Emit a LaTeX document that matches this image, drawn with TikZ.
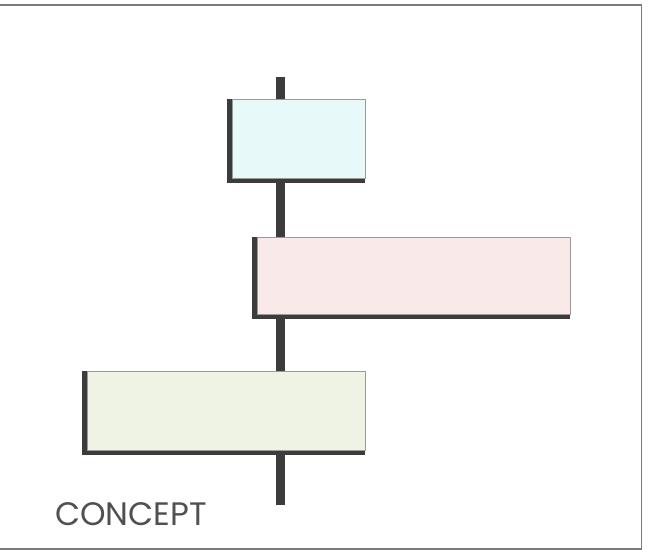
\documentclass[tikz,border=0pt]{standalone}
\usepackage{fontspec}
\setmainfont{Poppins}
\usepackage{xcolor}
\usetikzlibrary{backgrounds}
\definecolor{barGray}{HTML}{3C3C3C}
\definecolor{edgeGray}{HTML}{9A9A9A}
\definecolor{frameGray}{HTML}{7A7A7A}
\definecolor{cyanFill}{HTML}{E8F9FA}
\definecolor{pinkFill}{HTML}{F9E9E9}
\definecolor{greenFill}{HTML}{EFF3E3}
\tikzset{
    block/.style={draw=edgeGray, line width=0.5pt, inner sep=0pt},
    spine/.style={barGray, line width=0.18cm}
}

\begin{document}
\begin{tikzpicture}[x=0.02cm, y=-0.02cm]
            \useasboundingbox (0,0) rectangle (663,553);
            \draw[frameGray, line width=0.7pt] (-5,5) -- (641.5,5) -- (641.5,549) -- (-5,549);
            
            \node[block, fill=cyanFill, minimum width=2.66cm, minimum height=1.58cm] (upper) at (298.5,138.5) {};
            \node[block, fill=pinkFill, minimum width=6.26cm, minimum height=1.54cm] (middle) at (413.5,275.5) {};
            \node[block, fill=greenFill, minimum width=5.56cm, minimum height=1.58cm] (lower) at (226,410.5) {};
            
            \coordinate (spinetop) at (280.5,77);
            \coordinate (spinebot) at (280.5,505);
            
            \begin{scope}[on background layer]
            \draw[spine] (spinetop) -- (spinebot);
            % shadow on the left and bottom edge of each block
            \foreach \b in {upper, middle, lower}
                \fill[barGray] ([xshift=-0.1cm]\b.north west) rectangle ([yshift=-0.1cm]\b.south east);
            \end{scope}
            
            \node[anchor=base west, inner sep=0pt, text=barGray!90, font=\fontsize{18.5}{22}\selectfont] (label) at (55,526) {CONCEPT};
\end{tikzpicture}
\end{document}
